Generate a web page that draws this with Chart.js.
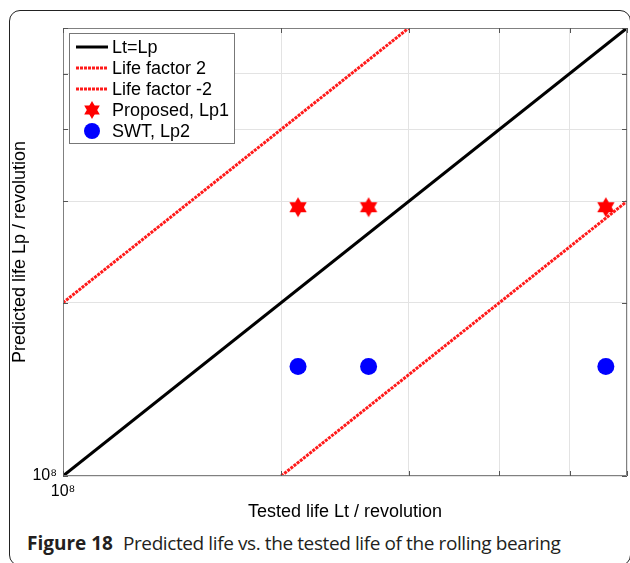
<!DOCTYPE html>
<html>
<head>
<meta charset="utf-8">
<script src="https://cdn.jsdelivr.net/npm/chart.js@4.4.1/dist/chart.umd.min.js"></script>
<style>
  body { margin: 0; background: #fff; width: 630px; height: 563px; overflow: hidden; position: relative; }
  #frame { position: absolute; left: 9px; top: 10px; width: 622px; height: 556px; border: 1px solid #222; border-radius: 11px; box-sizing: border-box; }
  #lifeChart { position: absolute; left: 0; top: 0; }
  #caption { position: absolute; left: 27px; top: 530px; font-family: "Open Sans", sans-serif; font-size: 19px; color: #231f20; white-space: nowrap; }
  #caption b { margin-right: 10px; }
  #caption span { letter-spacing: -0.4px; }
</style>
</head>
<body>
<div id="frame"></div>
<canvas id="lifeChart" width="630" height="525"></canvas>
<div id="caption"><b>Figure 18</b><span>Predicted life vs. the tested life of the rolling bearing</span></div>
<script>
// axis range (revolutions)
const axisMin = 1e8;
const axisMax = 6e8;
const gridTicks = [1e8, 2e8, 3e8, 4e8, 5e8, 6e8];

// reference lines
const equalX = [1e8, 6e8];
const equalY = [1e8, 6e8];
const factor2X = [1e8, 3e8];
const factor2Y = [2e8, 6e8];
const factorHalfX = [2e8, 6e8];
const factorHalfY = [1e8, 3e8];

// test results
const testedLife = [2.11e8, 2.64e8, 5.61e8];
const proposedLp1 = [2.93e8, 2.93e8, 2.93e8];
const swtLp2 = [1.55e8, 1.55e8, 1.55e8];

const toPoints = (xs, ys) => xs.map((x, i) => ({ x: x, y: ys[i] }));

// six-pointed star marker
function makeHexagram(r, color) {
  const c = document.createElement("canvas");
  const s = Math.ceil(r * 2 + 2);
  c.width = s; c.height = s;
  const g = c.getContext("2d");
  g.fillStyle = color;
  for (let k = 0; k < 2; k++) {
    g.beginPath();
    for (let j = 0; j < 3; j++) {
      const a = -Math.PI / 2 + k * Math.PI / 3 + j * 2 * Math.PI / 3;
      const px = s / 2 + r * Math.cos(a), py = s / 2 + r * Math.sin(a);
      if (j === 0) g.moveTo(px, py); else g.lineTo(px, py);
    }
    g.closePath();
    g.fill();
  }
  return c;
}
const starMark = makeHexagram(10, "#ff0000");
const starSmall = makeHexagram(9, "#ff0000");

const redDash = [3, 1];

const legendItems = [
  { label: "Lt=Lp", kind: "line", color: "#000", width: 3 },
  { label: "Life factor 2", kind: "line", color: "#ff1a1a", width: 3, dash: redDash },
  { label: "Life factor -2", kind: "line", color: "#ff1a1a", width: 3, dash: redDash },
  { label: "Proposed, Lp1", kind: "star" },
  { label: "SWT, Lp2", kind: "dot", color: "#0000ff" }
];

// box, inward ticks and inside legend
const framePlugin = {
  id: "framePlugin",
  afterDraw(chart) {
    const { ctx, chartArea: a, scales } = chart;
    ctx.save();
    ctx.strokeStyle = "#808080";
    ctx.lineWidth = 1;
    ctx.beginPath();
    ctx.rect(a.left + 0.5, a.top + 0.5, a.right - a.left - 1, a.bottom - a.top - 1);
    ctx.stroke();
    ctx.strokeStyle = "#555";
    ctx.beginPath();
    scales.x.ticks.forEach(t => {
      const px = Math.round(scales.x.getPixelForValue(t.value)) + 0.5;
      ctx.moveTo(px, a.bottom); ctx.lineTo(px, a.bottom - 5);
      ctx.moveTo(px, a.top); ctx.lineTo(px, a.top + 5);
    });
    scales.y.ticks.forEach(t => {
      const py = Math.round(scales.y.getPixelForValue(t.value)) + 0.5;
      ctx.moveTo(a.left, py); ctx.lineTo(a.left + 5, py);
      ctx.moveTo(a.right, py); ctx.lineTo(a.right - 5, py);
    });
    ctx.stroke();

    // legend
    const lx = a.left + 6, ly = a.top + 5, lw = 165, lh = 110;
    ctx.fillStyle = "#fff";
    ctx.fillRect(lx, ly, lw, lh);
    ctx.strokeStyle = "#777";
    ctx.strokeRect(lx + 0.5, ly + 0.5, lw, lh);
    ctx.font = "18px 'Liberation Sans', Arial, sans-serif";
    ctx.textBaseline = "middle";
    legendItems.forEach((it, i) => {
      const cy = ly + 14 + i * 21;
      if (it.kind === "line") {
        ctx.strokeStyle = it.color;
        ctx.lineWidth = it.width;
        ctx.setLineDash(it.dash || []);
        ctx.beginPath();
        ctx.moveTo(lx + 7, cy); ctx.lineTo(lx + 39, cy);
        ctx.stroke();
        ctx.setLineDash([]);
      } else if (it.kind === "star") {
        ctx.drawImage(starSmall, lx + 23 - starSmall.width / 2, cy - starSmall.height / 2);
      } else {
        ctx.fillStyle = it.color;
        ctx.beginPath();
        ctx.arc(lx + 23, cy, 8, 0, Math.PI * 2);
        ctx.fill();
      }
      ctx.fillStyle = "#000";
      ctx.fillText(it.label, lx + 43, cy + 1);
    });
    ctx.restore();
  }
};

const tickLabel = v => (v === 1e8 ? "10\u2078" : "");
const fixTicks = s => { s.ticks = gridTicks.map(v => ({ value: v })); };

new Chart(document.getElementById("lifeChart"), {
  type: "line",
  data: {
    datasets: [
      { label: "Lt=Lp", data: toPoints(equalX, equalY), borderColor: "#000", borderWidth: 3, pointRadius: 0 },
      { label: "Life factor 2", data: toPoints(factor2X, factor2Y), borderColor: "#ff1a1a", borderWidth: 3, borderDash: redDash, pointRadius: 0 },
      { label: "Life factor -2", data: toPoints(factorHalfX, factorHalfY), borderColor: "#ff1a1a", borderWidth: 3, borderDash: redDash, pointRadius: 0 },
      { label: "Proposed, Lp1", type: "scatter", data: toPoints(testedLife, proposedLp1), pointStyle: starMark, pointRadius: 10 },
      { label: "SWT, Lp2", type: "scatter", data: toPoints(testedLife, swtLp2), pointStyle: "circle", pointRadius: 8.5, backgroundColor: "#0000ff", borderWidth: 0 }
    ]
  },
  options: {
    responsive: false,
    animation: false,
    layout: { autoPadding: false, padding: { left: 0, top: 28, right: 3, bottom: 0 } },
    plugins: { legend: { display: false }, tooltip: { enabled: false } },
    scales: {
      x: {
        type: "logarithmic",
        min: axisMin,
        max: axisMax,
        afterBuildTicks: fixTicks,
        afterFit: s => { s.height = 49; s.paddingRight = 0; s.paddingLeft = 0; },
        grid: { color: "#e3e3e3", drawTicks: false },
        border: { display: false },
        ticks: { callback: tickLabel, autoSkip: false, maxRotation: 0, padding: 6, color: "#000", font: { family: "'Liberation Sans', Arial, sans-serif", size: 16 } },
        title: { display: true, text: "Tested life Lt / revolution", color: "#000", padding: { top: 0, bottom: 2 }, font: { family: "'Liberation Sans', Arial, sans-serif", size: 18 } }
      },
      y: {
        type: "logarithmic",
        min: axisMin,
        max: axisMax,
        afterBuildTicks: fixTicks,
        afterFit: s => { s.width = 63; s.paddingTop = 0; s.paddingBottom = 0; },
        grid: { color: "#e3e3e3", drawTicks: false },
        border: { display: false },
        ticks: { callback: tickLabel, autoSkip: false, padding: 6, color: "#000", font: { family: "'Liberation Sans', Arial, sans-serif", size: 16 } },
        title: { display: true, text: "Predicted life Lp / revolution", color: "#000", padding: { top: 9, bottom: 0 }, font: { family: "'Liberation Sans', Arial, sans-serif", size: 18 } }
      }
    }
  },
  plugins: [framePlugin]
});
</script>
</body>
</html>
